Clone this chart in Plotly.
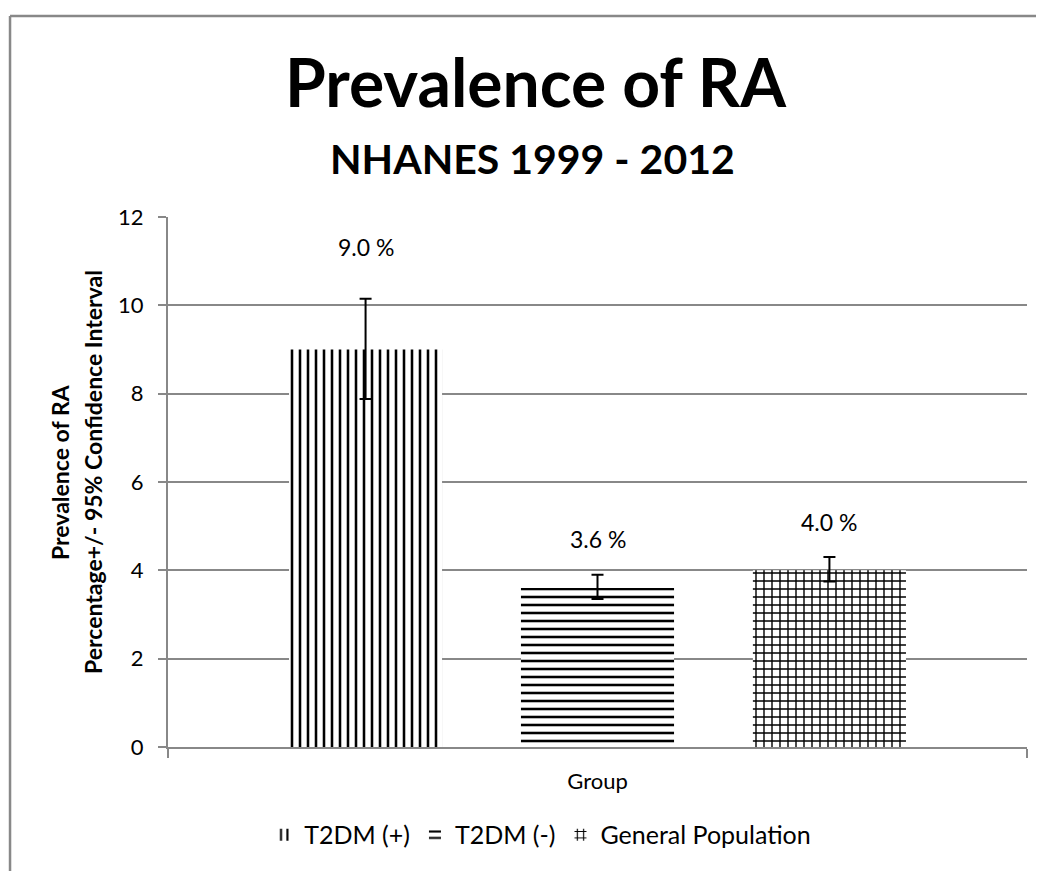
import plotly.graph_objects as go

# ---- data ----
groups = ["T2DM (+)", "T2DM (-)", "General Population"]
prevalence = [9.0, 3.6, 4.0]
ci_upper = [10.15, 3.90, 4.30]
ci_lower = [7.88, 3.35, 3.75]
value_labels = ["9.0 %", "3.6 %", "4.0 %"]
category = "Group"
y_ticks = [0, 2, 4, 6, 8, 10, 12]

patterns = ["|", "-", "+"]
FONT = "Lato"
GRAY = "#888888"

BARGAP = 0.19
BARGROUPGAP = 0.34

fig = go.Figure()
for i, g in enumerate(groups):
    fig.add_trace(go.Bar(
        name=g,
        x=[category],
        y=[prevalence[i]],
        marker=dict(
            color="white",
            line=dict(width=0),
            pattern=dict(shape=patterns[i], size=8, solidity=0.32,
                         fgcolor="black", bgcolor="white", fgopacity=1),
        ),
        error_y=dict(type="data", symmetric=False,
                     array=[ci_upper[i] - prevalence[i]],
                     arrayminus=[prevalence[i] - ci_lower[i]],
                     color="black", thickness=2, width=6),
        hoverinfo="skip",
    ))

# value labels above bars
slot = (1 - BARGAP) / len(groups)
label_shift = [103, 49, 48]
for i, t in enumerate(value_labels):
    fig.add_annotation(x=(i - 1) * slot, y=prevalence[i], xref="x", yref="y",
                       text=t, showarrow=False, yanchor="middle",
                       yshift=label_shift[i],
                       font=dict(family=FONT, size=23, color="black"))

# titles
fig.add_annotation(x=0.5, y=1.256, xref="paper", yref="paper", text="<b>Prevalence of RA</b>",
                   showarrow=False, yanchor="middle", xanchor="center", xshift=-62,
                   font=dict(family=FONT, size=66, color="black"))
fig.add_annotation(x=0.5, y=1.111, xref="paper", yref="paper", text="<b>NHANES 1999 - 2012</b>",
                   showarrow=False, yanchor="middle", xanchor="center", xshift=-65,
                   font=dict(family=FONT, size=41, color="black"))
# y axis title (two lines)
for xp, line in [(-0.1257, "Prevalence of RA"), (-0.0873, "Percentage+/- 95% Confidence Interval")]:
    fig.add_annotation(x=xp, y=0.519, xref="paper", yref="paper",
                       text="<b>" + line + "</b>",
                       showarrow=False, textangle=-90, xanchor="center", yanchor="middle",
                       font=dict(family=FONT, size=23, color="black"))

# chart-area border (top and left edges visible)
fig.add_shape(type="line", xref="paper", yref="paper", x0=-0.1839, x1=-0.1839, y0=-0.26, y1=1.3792,
              line=dict(color=GRAY, width=2.5))
fig.add_shape(type="line", xref="paper", yref="paper", x0=-0.1839, x1=1.03, y0=1.3792, y1=1.3792,
              line=dict(color=GRAY, width=2.5))

fig.update_layout(
    width=1036, height=863,
    margin=dict(l=160, r=17, t=209, b=124),
    paper_bgcolor="white", plot_bgcolor="white",
    barmode="group", bargap=BARGAP, bargroupgap=BARGROUPGAP,
    font=dict(family=FONT, size=22, color="black"),
    showlegend=True,
    legend=dict(orientation="h", x=0.112, xanchor="left", y=-0.166, yanchor="middle",
                font=dict(family=FONT, size=25), bgcolor="rgba(0,0,0,0)",
                itemwidth=30, traceorder="normal"),
    xaxis=dict(type="category", showline=True, linecolor=GRAY, linewidth=2,
               ticks="outside", tickson="boundaries", ticklen=9, tickcolor=GRAY, tickwidth=2,
               showgrid=False, tickfont=dict(family=FONT, size=22, color="black"),
               ticklabelstandoff=14, fixedrange=True),
    yaxis=dict(range=[0, 12], tickvals=y_ticks, showline=True, linecolor=GRAY, linewidth=2,
               ticks="outside", ticklen=8, tickcolor=GRAY, tickwidth=2,
               showgrid=True, gridcolor=GRAY, gridwidth=2, zeroline=False,
               tickfont=dict(family=FONT, size=22, color="black"),
               ticklabelstandoff=10, fixedrange=True),
)

fig.write_html("out.html")
